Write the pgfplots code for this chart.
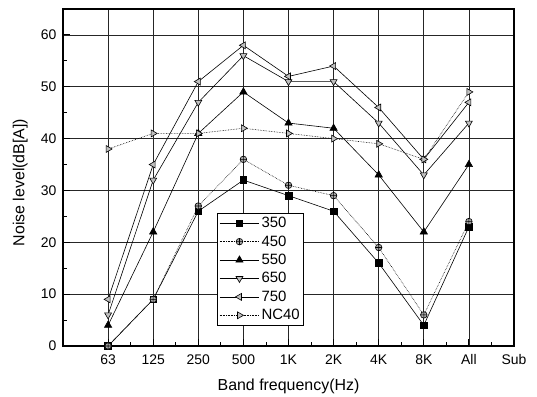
\documentclass[border=0pt]{standalone}
\usepackage{fontspec}
\setmainfont{Liberation Sans}
\usepackage{pgfplots}
\pgfplotsset{compat=1.18}

% Octave bands are plotted at positions 1..9 (63 Hz ... All), "Sub" sits at 10
\begin{document}
\begin{tikzpicture}
\begin{axis}[
  scale only axis, width=451bp, height=337bp,
  xmin=0, xmax=10, ymin=0, ymax=65,
  xtick={1,...,10},
  xticklabels={63,125,250,500,1K,2K,4K,8K,All,Sub},
  minor x tick num=1,
  ytick={0,10,...,60}, minor y tick num=1,
  tick pos=left, tick align=inside,
  major tick length=7bp, minor tick length=4bp,
  every tick/.style={black, line width=0.9bp},
  grid=major,
  major grid style={black!85, line width=0.8bp},
  axis line style={line width=1.4bp},
  /pgf/number format/assume math mode=true,
  tick label style={font=\fontsize{14}{16}\selectfont},
  xticklabel style={yshift=-5bp},
  yticklabel style={xshift=-3bp},
  label style={font=\fontsize{16}{18}\selectfont},
  xlabel={Band frequency(Hz)},
  ylabel={Noise level(dB[A])},
  xlabel style={at={(axis description cs:0.5,-0.12)}, anchor=center},
  ylabel style={at={(axis description cs:-0.095,0.485)}, anchor=center},
  legend style={at={(axis description cs:0.3415,0.3947)}, anchor=north west,
    font=\fontsize{15}{17}\selectfont, draw=black, line width=0.6bp,
    row sep=2.5bp, inner xsep=2bp, inner ysep=2bp},
  legend cell align=left,
  legend image code/.code={%
    \draw[mark repeat=2, mark phase=2] plot coordinates {(0cm,0cm) (0.7cm,0cm) (1.4cm,0cm)};},
  every axis plot/.append style={line width=0.6bp, black},
]
% 350
\addplot[mark=square*, mark size=3.3bp, mark options={solid, fill=black}]
  coordinates {(1,0) (2,9) (3,26) (4,32) (5,29) (6,26) (7,16) (8,4) (9,23)};
% 450
\addplot[densely dotted, mark=oplus*, mark size=3.3bp, mark options={solid, fill=gray!70}]
  coordinates {(1,0) (2,9) (3,27) (4,36) (5,31) (6,29) (7,19) (8,6) (9,24)};
% 550
\addplot[mark=triangle*, mark size=4.2bp, mark options={solid, fill=black}]
  coordinates {(1,4) (2,22) (3,41) (4,49) (5,43) (6,42) (7,33) (8,22) (9,35)};
% 650
\addplot[mark=triangle*, mark size=4bp, mark options={solid, fill=gray!50, rotate=180}]
  coordinates {(1,6) (2,32) (3,47) (4,56) (5,51) (6,51) (7,43) (8,33) (9,43)};
% 750
\addplot[mark=triangle*, mark size=4bp, mark options={solid, fill=gray!50, rotate=90}]
  coordinates {(1,9) (2,35) (3,51) (4,58) (5,52) (6,54) (7,46) (8,36) (9,47)};
% NC40
\addplot[densely dotted, mark=triangle*, mark size=4bp, mark options={solid, fill=gray!50, rotate=-90}]
  coordinates {(1,38) (2,41) (3,41) (4,42) (5,41) (6,40) (7,39) (8,36) (9,49)};
\legend{350,450,550,650,750,NC40}
\end{axis}
\pgfresetboundingbox
\path[use as bounding box] ([xshift=-63bp,yshift=-51bp]current axis.south west)
  rectangle ([xshift=23bp,yshift=9bp]current axis.north east);
\end{tikzpicture}
\end{document}
